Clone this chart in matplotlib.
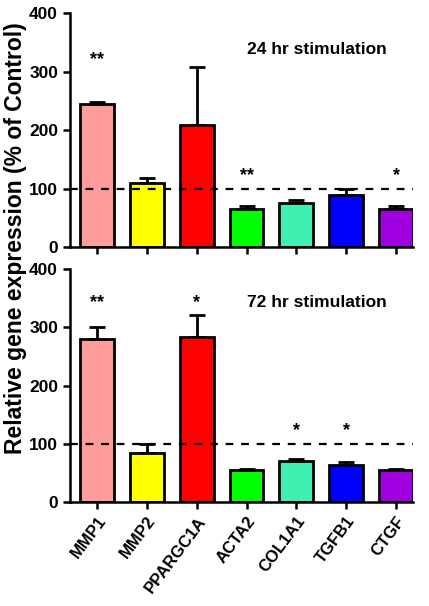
import matplotlib.pyplot as plt

plt.rcParams['font.family'] = ['Liberation Sans', 'DejaVu Sans']
plt.rcParams['font.weight'] = 'bold'

genes = ["MMP1", "MMP2", "PPARGC1A", "ACTA2", "COL1A1", "TGFB1", "CTGF"]
colors = ["#FF9C9C", "#FFFF00", "#FF0000", "#00FF00", "#40F0B0", "#0000FF", "#A000E0"]

# 24 hr
mean_24 = [245, 109, 208, 65, 76, 90, 65]
err_24 = [3, 9, 100, 6, 5, 10, 6]
stars_24 = ["**", "", "", "**", "", "", "*"]

# 72 hr
mean_72 = [280, 84, 283, 55, 71, 63, 55]
err_72 = [21, 15, 38, 2, 2, 5, 2]
stars_72 = ["**", "", "*", "", "*", "*", ""]

fig = plt.figure(figsize=(4.29, 6.06), dpi=100)
ax1 = fig.add_axes([0.163, 0.592, 0.8, 0.3865])
ax2 = fig.add_axes([0.163, 0.1716, 0.8, 0.3844])

x = list(range(len(genes)))

def panel(ax, means, errs, stars, title, title_y, hi_star):
    ax.bar(x, means, width=0.68, color=colors, edgecolor="black", linewidth=2.0,
           yerr=[[0]*len(errs), errs], capsize=6,
           error_kw=dict(elinewidth=2.0, capthick=2.0, ecolor="black"), zorder=2)
    ax.axhline(100, color="black", linestyle=(0, (3.5, 3.5)), linewidth=1.6, zorder=3)
    ax.set_xlim(-0.54, 6.34)
    ax.set_ylim(0, 400)
    ax.set_yticks([0, 100, 200, 300, 400])
    ax.set_xticks(x)
    for s in ["top", "right"]:
        ax.spines[s].set_visible(False)
    for s in ["left", "bottom"]:
        ax.spines[s].set_linewidth(1.8)
    ax.tick_params(width=1.8, length=5, labelsize=12.5, direction="out")
    for lab in ax.get_yticklabels():
        lab.set_fontweight("bold")
    ax.text(4.42, title_y, title, ha="center", va="center",
            fontsize=12.5, fontweight="bold")
    for i, s in enumerate(stars):
        if s:
            y = hi_star if means[i] > 150 else 123
            ax.text(i, y, s, ha="center", va="center", fontsize=13, fontweight="bold")

panel(ax1, mean_24, err_24, stars_24, "24 hr stimulation", 337, 320)
panel(ax2, mean_72, err_72, stars_72, "72 hr stimulation", 343, 343)

ax1.set_xticklabels([])
ax2.set_xticklabels(genes, rotation=53, ha="right", rotation_mode="anchor",
                    fontsize=12, fontweight="bold")

fig.text(0.035, 0.607, "Relative gene expression (% of Control)", rotation=90,
         ha="center", va="center", fontsize=16.5, fontweight="bold")

fig.savefig("out.png", dpi=100)
